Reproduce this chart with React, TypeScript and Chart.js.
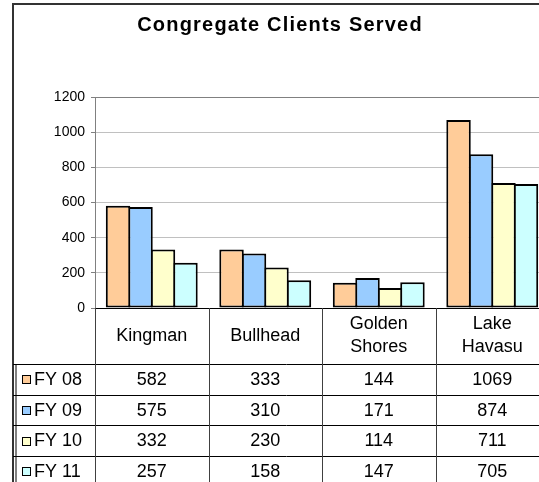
import React, { useEffect, useRef } from "react";
import { Chart, registerables } from "chart.js";

Chart.register(...registerables);

const TITLE = "Congregate Clients Served";
const CATEGORIES: string[][] = [["Kingman"], ["Bullhead"], ["Golden", "Shores"], ["Lake", "Havasu"]];
const SERIES_NAMES = ["FY 08", "FY 09", "FY 10", "FY 11"];
const FY08 = [582, 333, 144, 1069];
const FY09 = [575, 310, 171, 874];
const FY10 = [332, 230, 114, 711];
const FY11 = [257, 158, 147, 705];
const SERIES_COLORS = ["#FFCC99", "#99CCFF", "#FFFFCC", "#CCFFFF"];
const Y_MIN = 0;
const Y_MAX = 1200;
const Y_STEP = 200;

const SERIES = [FY08, FY09, FY10, FY11];
const FONT = '"Liberation Sans", Arial, Helvetica, sans-serif';

const tablePlugin = {
  id: "dataTable",
  afterDraw(chart: any) {
    const ctx: CanvasRenderingContext2D = chart.ctx;
    const area = chart.chartArea;
    const xs = chart.scales.x;
    const n = CATEGORIES.length;
    const catW = (area.right - area.left) / n;
    const catRowH = 56;
    const rowH = 30.7;
    const tableTop = area.bottom;
    const rowsTop = tableTop + catRowH;
    const frameLeft = 13;
    const W = chart.width;
    const H = chart.height;

    ctx.save();

    // title
    ctx.fillStyle = "#000";
    ctx.font = `bold 20px ${FONT}`;
    (ctx as any).letterSpacing = "1.2px";
    ctx.textAlign = "center";
    ctx.textBaseline = "alphabetic";
    ctx.fillText(TITLE, 280, 31);
    (ctx as any).letterSpacing = "0px";

    // frame
    ctx.strokeStyle = "#333";
    ctx.lineWidth = 2;
    ctx.strokeRect(13, 4, W + 100, H + 100);

    // legend-key grey strip
    ctx.fillStyle = "#808080";
    ctx.fillRect(15, rowsTop, 2, H - rowsTop);

    // horizontal lines
    ctx.strokeStyle = "#000";
    ctx.lineWidth = 1;
    ctx.beginPath();
    for (let k = 0; k <= SERIES.length; k++) {
      const y = Math.round(rowsTop + k * rowH) + 0.5;
      ctx.moveTo(frameLeft, y);
      ctx.lineTo(W, y);
    }
    ctx.stroke();

    // vertical lines
    ctx.strokeStyle = "#404040";
    ctx.beginPath();
    for (let i = 0; i <= n; i++) {
      const x = Math.round(area.left + i * catW) + 0.5;
      ctx.moveTo(x, tableTop);
      ctx.lineTo(x, H);
    }
    ctx.stroke();

    // category labels
    ctx.fillStyle = "#000";
    ctx.font = `18px ${FONT}`;
    ctx.textAlign = "center";
    ctx.textBaseline = "middle";
    const lineH = 23;
    for (let i = 0; i < n; i++) {
      const cx = xs.getPixelForValue(i);
      const lines = CATEGORIES[i];
      const cy = tableTop + catRowH / 2;
      const start = cy - ((lines.length - 1) * lineH) / 2;
      lines.forEach((t, j) => ctx.fillText(t, cx, start + j * lineH));
    }

    // rows
    for (let s = 0; s < SERIES.length; s++) {
      const cy = rowsTop + s * rowH + rowH / 2 + 0.5;
      ctx.fillStyle = SERIES_COLORS[s];
      ctx.fillRect(22, Math.round(cy - 4.5), 9, 9);
      ctx.strokeStyle = "#000";
      ctx.lineWidth = 1;
      ctx.strokeRect(22.5, Math.round(cy - 4.5) + 0.5, 8, 8);
      ctx.fillStyle = "#000";
      ctx.textAlign = "left";
      ctx.fillText(SERIES_NAMES[s], 34, cy);
      ctx.textAlign = "center";
      for (let i = 0; i < n; i++) {
        ctx.fillText(String(SERIES[s][i]), xs.getPixelForValue(i), cy);
      }
    }

    ctx.restore();
  },
};

export default function App() {
  const ref = useRef<HTMLCanvasElement | null>(null);

  useEffect(() => {
    const canvas = ref.current;
    if (!canvas) return;
    const chart = new Chart(canvas, {
      type: "bar",
      data: {
        labels: CATEGORIES,
        datasets: SERIES.map((d, i) => ({
          label: SERIES_NAMES[i],
          data: d,
          backgroundColor: SERIES_COLORS[i],
          borderColor: "#000",
          borderWidth: 2,
          borderSkipped: false,
          categoryPercentage: 0.792,
          barPercentage: 1.089,
        })),
      },
      options: {
        animation: false,
        responsive: false,
        devicePixelRatio: 1,
        layout: { padding: { top: 97, left: 0, right: 11, bottom: 192 } },
        plugins: {
          legend: { display: false },
          title: { display: false },
          tooltip: { enabled: false },
        },
        scales: {
          x: { display: false },
          y: {
            min: Y_MIN,
            max: Y_MAX,
            afterFit: (scale: any) => {
              scale.width = 95;
            },
            ticks: {
              stepSize: Y_STEP,
              color: "#000",
              padding: 6,
              font: { family: FONT, size: 14 },
              callback: (v: any) => String(v),
            },
            grid: {
              color: (c: any) =>
                c.tick && c.tick.value === Y_MIN ? "#000" : c.tick && c.tick.value === Y_MAX ? "#808080" : "#C0C0C0",
              tickColor: "#808080",
              tickLength: 4,
              lineWidth: 1,
            },
            border: { display: true, color: "#808080", width: 1 },
          },
        },
      },
      plugins: [tablePlugin],
    } as any);
    return () => chart.destroy();
  }, []);

  return (
    <div
      style={{
        position: "fixed",
        left: 0,
        top: 0,
        width: 539,
        height: 482,
        overflow: "hidden",
        background: "#fff",
      }}
    >
      <canvas ref={ref} width={560} height={500} style={{ display: "block", width: 560, height: 500 }} />
    </div>
  );
}
